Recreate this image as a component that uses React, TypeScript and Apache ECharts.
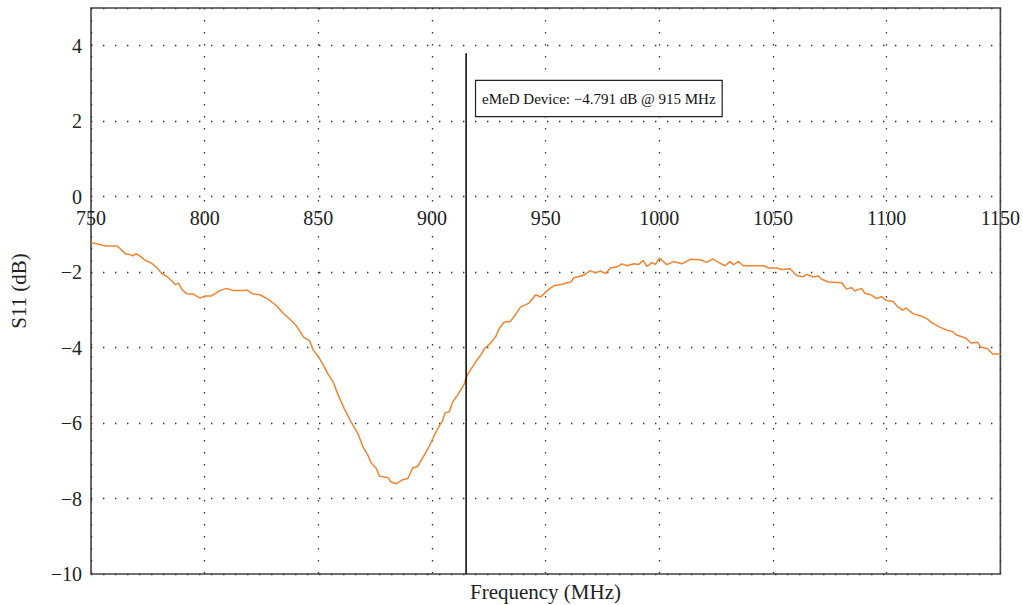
import React, { useEffect, useRef } from "react";
import * as echarts from "echarts";

const freqMHz = [
  750, 752.6, 754.8, 757, 761.4, 762.9, 765, 767, 768.4, 769.9, 771.4, 773.8, 776.8, 779, 781, 783.3,
  785.5, 787, 788.5, 790, 792, 795, 798, 800.1, 803, 806.7, 809.6, 812.6, 817, 818.4, 821.4, 824.3,
  828, 831.6, 834.5, 837.4, 840.4, 843.5, 846.2, 847.7, 849.9, 852.1, 854.3, 856.5, 858.6, 861.5,
  864.5, 867.4, 869.6, 871.8, 873.2, 875.4, 876.9, 880.5, 882, 884.2, 887.1, 889.3, 890, 891.4,
  893.7, 896.6, 898.8, 901, 902.5, 904.7, 905.7, 907.6, 909, 911.2, 914.2, 915, 916.3, 919.3, 921.5,
  922.9, 925.9, 928.1, 929.5, 931.7, 934.4, 936.8, 939, 942.7, 945.6, 947.8, 950.7, 953.6, 957.3,
  961, 962.4, 966.8, 969.7, 971.9, 974.1, 976.3, 978.5, 981.4, 983.6, 985.8, 988.8, 990.9, 992.8,
  994.6, 996.8, 998.2, 1000.1, 1003.3, 1006.3, 1009.9, 1013.6, 1018, 1020.9, 1023.5, 1026, 1028.9,
  1031.1, 1032.6, 1034.8, 1037, 1045.8, 1048, 1051.6, 1053.8, 1057.5, 1060.4, 1063.3, 1064.8,
  1067.7, 1069.9, 1071.4, 1074.3, 1080.2, 1082.3, 1084.5, 1086, 1088.9, 1090.4, 1093.3, 1095.5,
  1097.7, 1099.9, 1102.8, 1105, 1107.2, 1108.6, 1111.5, 1115.2, 1118.1, 1120.3, 1123.2, 1126.1,
  1129.1, 1130.5, 1134.9, 1137.1, 1140, 1141.5, 1144.4, 1146.6, 1150,
];

const s11dB = [
  -1.22, -1.25, -1.29, -1.31, -1.31, -1.38, -1.51, -1.53, -1.57, -1.51, -1.57, -1.68, -1.77, -1.88, -2.03, -2.11,
  -2.23, -2.33, -2.29, -2.46, -2.57, -2.58, -2.69, -2.63, -2.63, -2.49, -2.43, -2.49, -2.49, -2.47, -2.58, -2.6,
  -2.72, -2.89, -3.09, -3.24, -3.43, -3.72, -3.82, -4.06, -4.23, -4.45, -4.71, -4.91, -5.24, -5.63,
  -5.98, -6.28, -6.63, -6.85, -7.06, -7.19, -7.41, -7.44, -7.56, -7.61, -7.5, -7.47, -7.39, -7.19,
  -7.15, -6.85, -6.61, -6.33, -6.15, -5.93, -5.73, -5.7, -5.45, -5.26, -4.97, -4.79, -4.65, -4.37, -4.19,
  -4.04, -3.87, -3.7, -3.5, -3.33, -3.31, -3.12, -2.92, -2.82, -2.6, -2.66, -2.49, -2.36, -2.32,
  -2.26, -2.15, -2.08, -1.96, -2.02, -1.97, -2.04, -1.89, -1.86, -1.78, -1.83, -1.78, -1.8, -1.69,
  -1.85, -1.74, -1.8, -1.63, -1.8, -1.72, -1.78, -1.66, -1.67, -1.74, -1.65, -1.74, -1.83,
  -1.72, -1.8, -1.72, -1.83, -1.83, -1.89, -1.89, -1.93, -1.91, -2.09, -2.12, -2.06,
  -2.13, -2.1, -2.19, -2.26, -2.28, -2.45, -2.41, -2.5, -2.43, -2.56, -2.61, -2.7,
  -2.65, -2.75, -2.78, -2.93, -3.01, -2.95, -3.1, -3.16, -3.25, -3.36, -3.45, -3.53,
  -3.58, -3.66, -3.75, -3.88, -3.86, -3.99, -4.03, -4.17, -4.17,
];

const markerFreq = 915;
const markerValue = -4.791;
const markerLineRange = [-10, 3.8];
const markerLabelValue = 2.6;
const markerLabel = `eMeD Device: \u2212${Math.abs(markerValue)} dB @ ${markerFreq} MHz`;

const xMin = 750;
const xMax = 1150;
const xStep = 50;
const yMin = -10;
const yMax = 5;
const yStep = 2;
const xTitle = "Frequency (MHz)";
const yTitle = "S11 (dB)";

const FONT = "'Liberation Serif', 'Times New Roman', serif";
const minus = (v: number) => String(v).replace("-", "\u2212");

const W = 1023;
const H = 605;
const GRID = { left: 90, right: 22, top: 8, bottom: 31 };

export default function App() {
  const ref = useRef<HTMLDivElement>(null);

  useEffect(() => {
    if (!ref.current) return;
    const chart = echarts.init(ref.current, null, { renderer: "svg" });
    const gridDots = { color: "#333", width: 1.3, type: [1.4, 10.6] as number[] };
    const plotH = H - GRID.top - GRID.bottom;
    const plotW = W - GRID.left - GRID.right;
    // x axis sits on the 0 dB line
    const zeroOffset = -plotH * (0 - yMin) / (yMax - yMin);
    chart.setOption({
      animation: false,
      backgroundColor: "#fff",
      grid: {
        ...GRID,
        show: true,
        borderColor: "#444",
        borderWidth: 1.6,
        backgroundColor: "transparent",
      },
      xAxis: {
        type: "value",
        position: "bottom",
        offset: zeroOffset,
        min: xMin,
        max: xMax,
        interval: xStep,
        axisLine: { show: false, onZero: false },
        axisTick: { show: false },
        axisLabel: {
          color: "#222",
          fontFamily: FONT,
          fontSize: 20,
          margin: 11,
          formatter: (v: number) => String(v),
        },
        splitLine: { show: true, lineStyle: gridDots },
      },
      yAxis: {
        type: "value",
        min: yMin,
        max: yMax,
        interval: yStep,
        axisLine: { show: false, onZero: false },
        axisTick: { show: false },
        axisLabel: {
          color: "#222",
          fontFamily: FONT,
          fontSize: 20,
          margin: 9,
          showMaxLabel: false,
          formatter: (v: number) => minus(v),
        },
        splitLine: { show: true, lineStyle: gridDots },
        name: yTitle,
        nameLocation: "middle",
        nameGap: 62,
        nameTextStyle: { color: "#222", fontFamily: FONT, fontSize: 21 },
      },
      graphic: [
        {
          type: "text",
          x: GRID.left + plotW / 2,
          y: H - GRID.bottom + 7,
          style: { text: xTitle, fill: "#222", font: `21px ${FONT}`, align: "center", verticalAlign: "top" },
        },
      ],
      series: [
        {
          type: "line",
          data: freqMHz.map((f, i) => [f, s11dB[i]]),
          showSymbol: false,
          symbol: "none",
          lineStyle: { color: "#F0842F", width: 1.5 },
          z: 3,
        },
        {
          type: "line",
          data: markerLineRange.map((v) => [markerFreq, v]),
          showSymbol: false,
          symbol: "none",
          lineStyle: { color: "#000", width: 1.5 },
          z: 4,
          markPoint: {
            symbol: "circle",
            symbolSize: 0,
            data: [{ coord: [markerFreq, markerLabelValue] }],
            label: {
              show: true,
              position: "right",
              distance: 10,
              formatter: markerLabel,
              color: "#111",
              fontFamily: FONT,
              fontSize: 15,
              backgroundColor: "#fff",
              borderColor: "#222",
              borderWidth: 1.2,
              padding: [10, 6, 10, 6],
            },
          },
        },
      ],
    });
    return () => chart.dispose();
  }, []);

  return (
    <div
      ref={ref}
      style={{ position: "fixed", left: 0, top: 0, width: W, height: H, background: "#fff" }}
    />
  );
}
